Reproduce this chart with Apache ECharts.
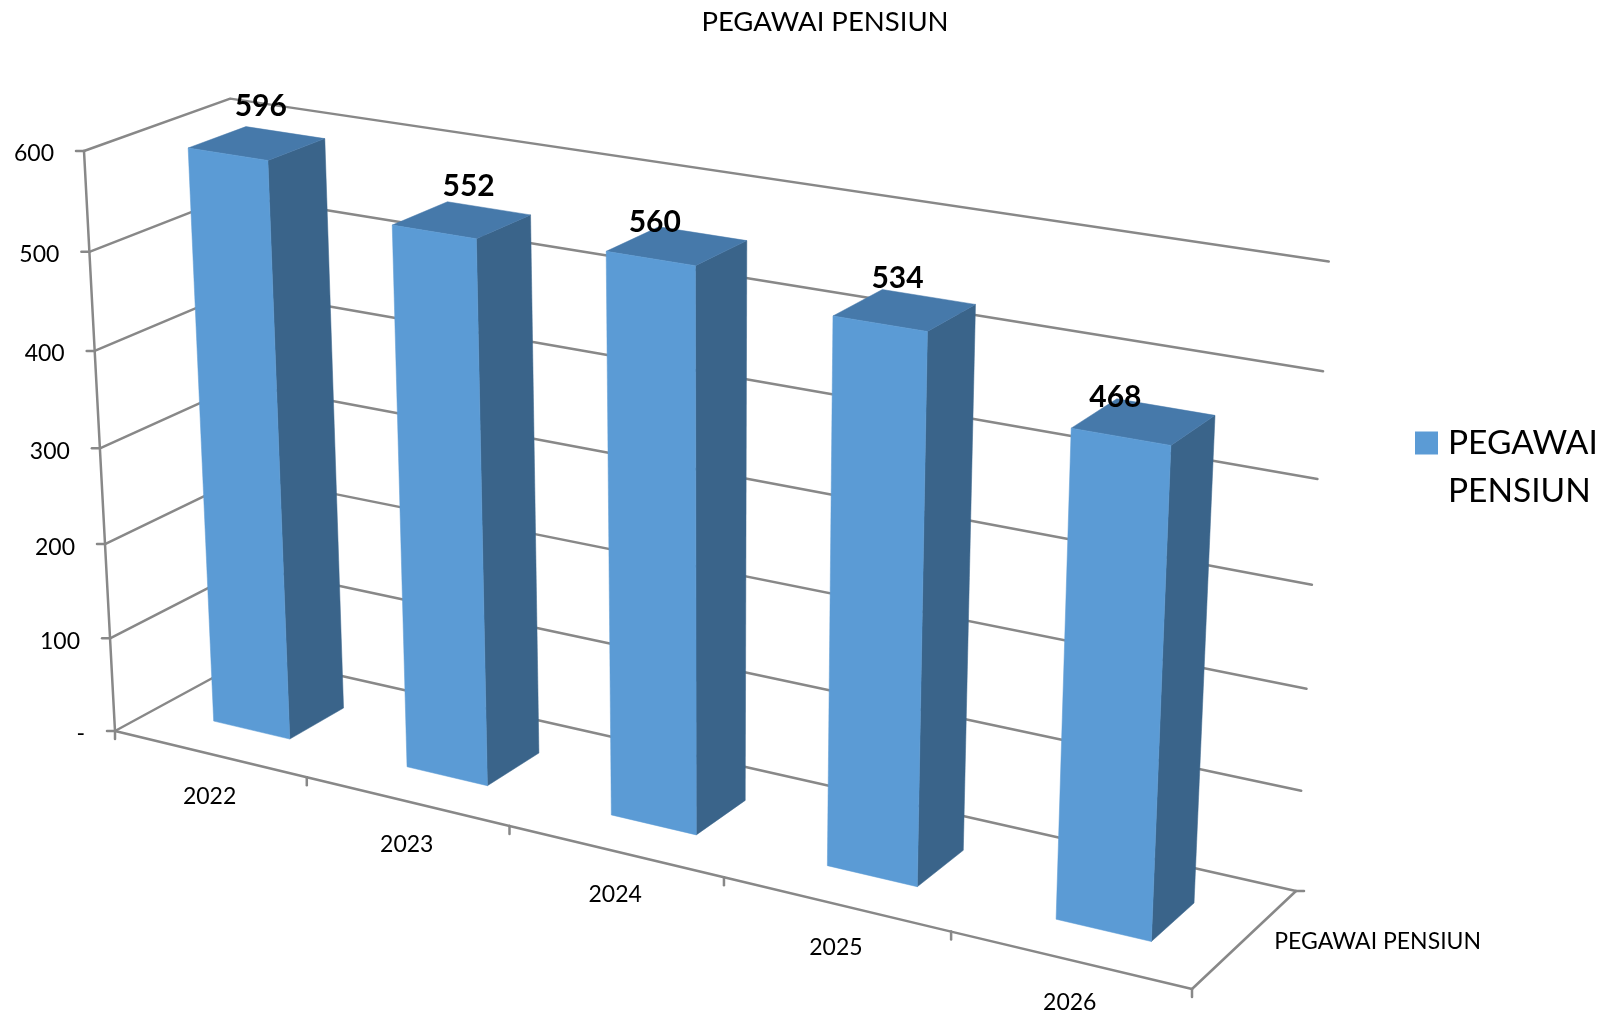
<!DOCTYPE html>
<html><head><meta charset="utf-8">
<style>html,body{margin:0;padding:0;background:#fff}#c{width:1608px;height:1014px}</style>
<script src="https://cdn.jsdelivr.net/npm/echarts@6/dist/echarts.min.js"></script>
</head><body><div id="c"></div>
<script>
var chartTitle = 'PEGAWAI PENSIUN';
var seriesName = 'PEGAWAI PENSIUN';
var legendLines = ['PEGAWAI','PENSIUN'];
var categories = ['2022','2023','2024','2025','2026'];
var values = [596,552,560,534,468];
var yTickValues = [0,100,200,300,400,500,600];
var yTickLabels = ['-','100','200','300','400','500','600'];

// Perspective of the chart box: screen anchors and depth factors
var O=[115,731],U=[1192,989],V=[84,151],W=[253,656],P=-0.1263,Q=-0.0491,R=0.0452;
function vec(E,k){return [(1+k)*E[0]-O[0],(1+k)*E[1]-O[1]];}
var A=vec(U,P),B=vec(V,Q),C=vec(W,R);
function project(u,v,w){
  var d=1+u*P+v*Q+w*R;
  return [(O[0]+u*A[0]+v*B[0]+w*C[0])/d-8*u*(1-u),(O[1]+u*A[1]+v*B[1]+w*C[1])/d-4.5*u*v];
}
var LINE='#888888', FRONT='#5B9BD5', SIDE='#3A648A', TOP='#4679AA', TXT='#000', FF='Lato, Carlito, sans-serif';
var labelNudge=[[4,-37],[7,-34],[-22,-24],[-7,-32],[-28,-24]];

function norm(params,api,cat,val,catShift){
  var cs=params.coordSys, p=api.coord([cat,val]), band=api.size([1,0])[0];
  return [(p[0]+(catShift||0)*band-cs.x)/cs.width,(cs.y+cs.height-p[1])/cs.height];
}
function line(pts,lw){return {type:'polyline',silent:true,shape:{points:pts},style:{stroke:LINE,lineWidth:lw||2.5,fill:null,lineCap:'round',lineJoin:'round'}};}
function text(x,y,s,size,align,bold){return {type:'text',silent:true,x:x,y:y,style:{text:s,fill:TXT,font:(bold?'bold ':'')+size+'px '+FF,align:align,verticalAlign:'middle'}};}

var option={
  animation:false,
  backgroundColor:'#fff',
  title:{text:chartTitle,left:820,top:3,textAlign:'center',textStyle:{fontFamily:FF,fontSize:27.5,fontWeight:'normal',color:TXT}},
  legend:{data:[seriesName],left:1410,top:421,itemWidth:23,itemHeight:23,itemGap:0,icon:'rect',selectedMode:false,
    formatter:function(){return '{a|'+legendLines[0]+'}';},
    textStyle:{fontFamily:FF,fontSize:33.5,color:TXT,rich:{a:{fontFamily:FF,fontSize:33.5,color:TXT,padding:[0,0,0,5]}}}},
  graphic:[{type:'text',silent:true,left:1448,top:474,style:{text:legendLines[1],fill:TXT,font:'33.5px '+FF}}],
  grid:{left:100,top:100,width:1000,height:600,containLabel:false},
  xAxis:{type:'category',data:categories,show:false,boundaryGap:true},
  yAxis:{type:'value',min:0,max:600,interval:100,show:false},
  series:[
    {type:'custom',name:'wall',coordinateSystem:'cartesian2d',silent:true,z:1,
     data:yTickValues.map(function(t,i){return [0,t,yTickLabels[i]];}),
     encode:{x:0,y:1},
     renderItem:function(params,api){
       var n=norm(params,api,0,api.value(1)), v=n[1];
       var a=project(0,v,0),b=project(0,v,1),c=project(1,v,1);
       return {type:'group',children:[
         line([a,b,c]),
         line([[a[0]-8,a[1]],a]),
         text(a[0]-30,a[1]+3,String(yTickLabels[params.dataIndex]),23,'right')
       ]};
     }},
    {type:'custom',name:'axes',coordinateSystem:'cartesian2d',silent:true,z:2,
     data:categories.map(function(c,i){return [i,0];}),
     encode:{x:0,y:1},
     renderItem:function(params,api){
       var i=params.dataIndex, n0=norm(params,api,i,0,-0.5), n1=norm(params,api,i,0,0.5), nm=norm(params,api,i,0,0);
       var top=norm(params,api,i,600)[1];
       var a=project(n0[0],0,0),b=project(n1[0],0,0),m=project(nm[0],0,0);
       var ch=[line([a,b]),line([b,[b[0],b[1]+8]]),text(m[0],m[1]+43,categories[i],23,'center')];
       if(i===0){ch.push(line([a,[a[0],a[1]+8]]),line([project(0,0,0),project(0,top,0)]));}
       if(i===categories.length-1){
         var r=project(1,0,1),h=project(1,0,0.5);
         ch.push(line([b,r]),line([r,[r[0]+8,r[1]]]),text(h[0]+29,h[1]+3,seriesName,23,'left'));
       }
       return {type:'group',children:ch};
     }},
    {type:'custom',name:seriesName,coordinateSystem:'cartesian2d',silent:true,z:3,
     itemStyle:{color:FRONT},
     data:values.map(function(v,i){return [i,v];}),
     encode:{x:0,y:1},
     renderItem:function(params,api){
       var i=api.value(0), val=api.value(1);
       var L=norm(params,api,i,val,-0.2), Rr=norm(params,api,i,val,0.2), m=norm(params,api,i,val,0);
       var u0=L[0],u1=Rr[0],v=L[1],w0=0.3,w1=0.7;
       var a=project(u0,0,w0),b=project(u1,0,w0),c=project(u1,v,w0),d=project(u0,v,w0);
       var e=project(u1,0,w1),f=project(u1,v,w1),g=project(u0,v,w1);
       function poly(pts,col){return {type:'polygon',silent:true,shape:{points:pts},style:{fill:col,stroke:col,lineWidth:0.5}};}
       var t=project(m[0],v,0.5), nd=labelNudge[params.dataIndex];
       return {type:'group',children:[
         poly([b,e,f,c],SIDE),
         poly([d,c,f,g],TOP),
         poly([a,b,c,d],FRONT),
         text(t[0]+nd[0],t[1]+nd[1],String(values[params.dataIndex]),30,'center',true)
       ]};
     }}
  ]
};
var chart=echarts.init(document.getElementById('c'),null,{renderer:'canvas',width:1608,height:1014});
chart.setOption(option);
</script></body></html>
